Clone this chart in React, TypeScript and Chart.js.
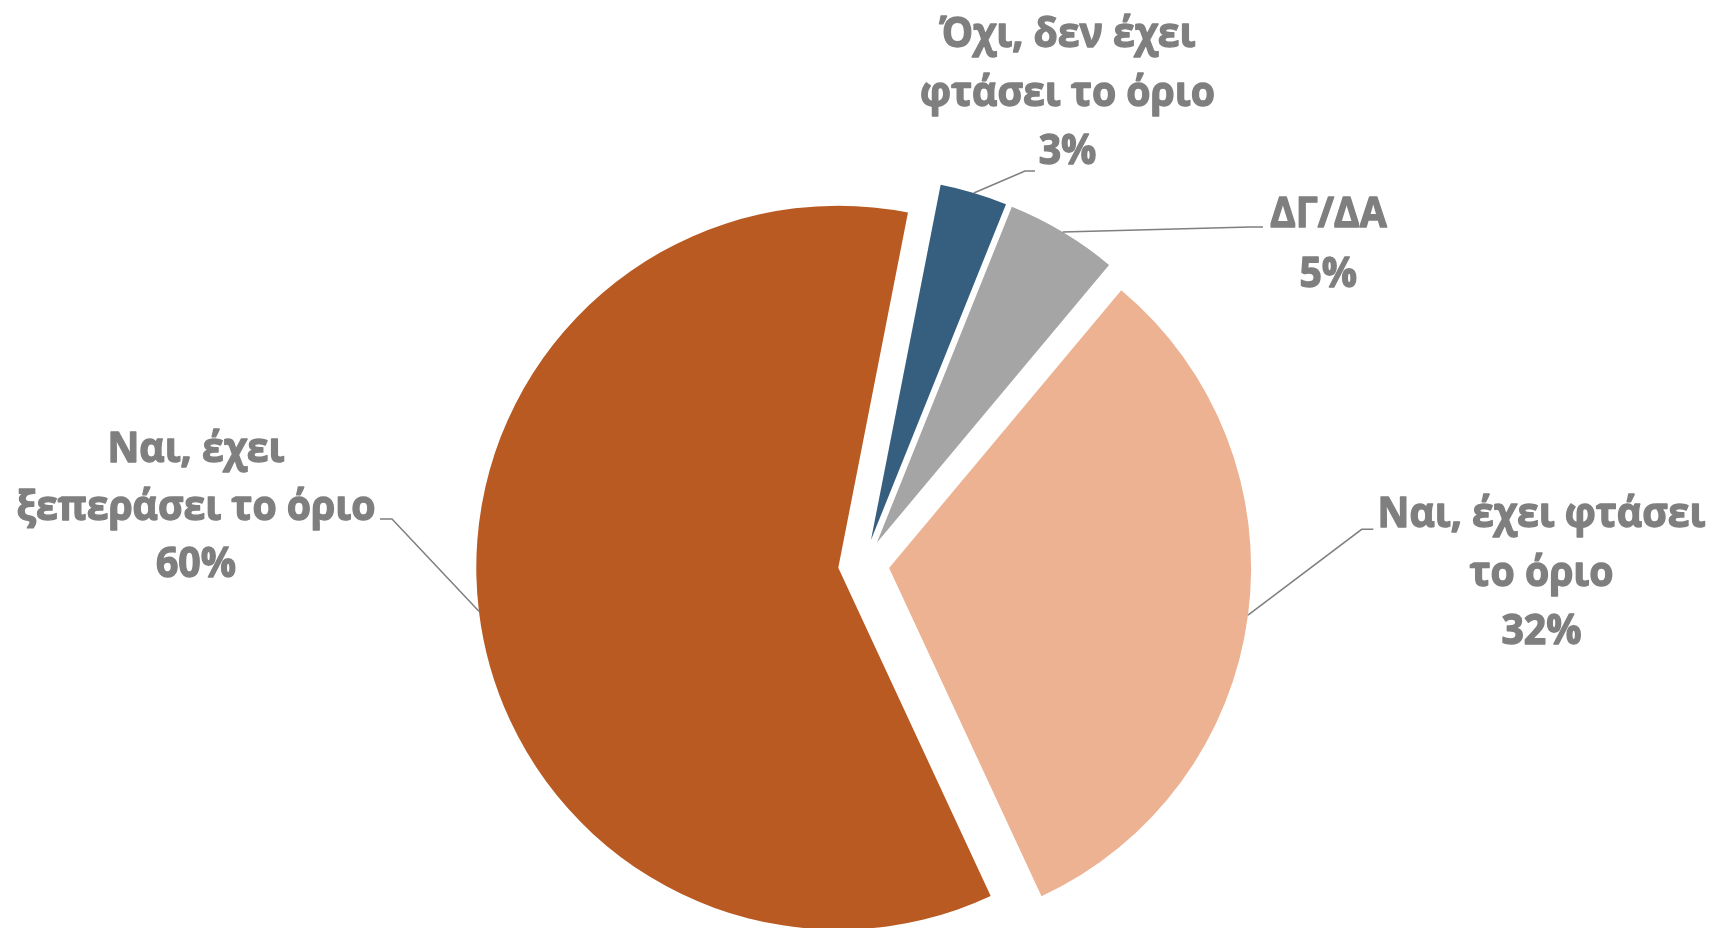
import React, { useEffect, useRef } from 'react';
import { Chart, registerables } from 'chart.js';

Chart.register(...registerables);

// ---- data ----
const categories = [
  'Όχι, δεν έχει φτάσει το όριο',
  'ΔΓ/ΔΑ',
  'Ναι, έχει φτάσει το όριο',
  'Ναι, έχει ξεπεράσει το όριο',
];
const labelLines = [
  ['Όχι, δεν έχει', 'φτάσει το όριο'],
  ['ΔΓ/ΔΑ'],
  ['Ναι, έχει φτάσει', 'το όριο'],
  ['Ναι, έχει', 'ξεπεράσει το όριο'],
];
const values = [3, 5, 32, 60];

// ---- styles / layout ----
const colors = ['#365E7E', '#A5A5A5', '#ECB292', '#B95A23'];
const W = 1713;
const H = 928;
const CENTER_X = 863.7;
const CENTER_Y = 564.6;
const RADIUS = 362;
const ROTATION = 11.1;
const EXPLODE = [25.6, 25.6, 25.6, 25.6];
const TEXT_COLOR = '#7F7F7F';
const LEADER_COLOR = '#7F7F7F';
const FONT_SIZE = 42;
const FONT_FAMILY = '"Open Sans", "Noto Sans", sans-serif';
const TEXT_STROKE = 1.4;
const REF_TEXT = 'ξεπεράσει το όριο';
const REF_WIDTH = 359;
const LINE_H = 58.5;
const labelLayout = [
  { x: 1067.5, y: 47, lh: LINE_H, elbow: [1025, 171], end: [1035, 171] },
  { x: 1328.3, y: 226.7, lh: 60, elbow: [1250, 227], end: [1263, 227] },
  { x: 1541.5, y: 527, lh: LINE_H, elbow: [1361.7, 529.3], end: [1373.3, 529.3] },
  { x: 196, y: 462, lh: 57.5, elbow: [392, 519], end: [380, 519] },
];

const explodePlugin = {
  id: 'explodeSlices',
  afterUpdate(chart: any) {
    const meta = chart.getDatasetMeta(0);
    meta.data.forEach((arc: any, i: number) => {
      const mid = (arc.startAngle + arc.endAngle) / 2;
      arc.x += Math.cos(mid) * EXPLODE[i];
      arc.y += Math.sin(mid) * EXPLODE[i];
    });
  },
};

const labelPlugin = {
  id: 'sliceLabels',
  afterDraw(chart: any) {
    const ctx: CanvasRenderingContext2D = chart.ctx;
    const meta = chart.getDatasetMeta(0);
    const total = values.reduce((a, b) => a + b, 0);
    ctx.save();
    ctx.font = `bold ${FONT_SIZE}px ${FONT_FAMILY}`;
    const sx = REF_WIDTH / ctx.measureText(REF_TEXT).width;
    ctx.textAlign = 'center';
    ctx.textBaseline = 'alphabetic';
    ctx.fillStyle = TEXT_COLOR;
    meta.data.forEach((arc: any, i: number) => {
      const L = labelLayout[i];
      const mid = (arc.startAngle + arc.endAngle) / 2;
      const ex = arc.x + Math.cos(mid) * arc.outerRadius;
      const ey = arc.y + Math.sin(mid) * arc.outerRadius;
      ctx.strokeStyle = LEADER_COLOR;
      ctx.lineWidth = 1.5;
      ctx.beginPath();
      ctx.moveTo(ex, ey);
      ctx.lineTo(L.elbow[0], L.elbow[1]);
      ctx.lineTo(L.end[0], L.end[1]);
      ctx.stroke();
      const lines = [...labelLines[i], `${Math.round((values[i] / total) * 100)}%`];
      lines.forEach((t, j) => {
        ctx.save();
        ctx.translate(L.x, L.y + j * L.lh);
        ctx.scale(sx, 1);
        ctx.lineWidth = TEXT_STROKE;
        ctx.lineJoin = 'round';
        ctx.strokeStyle = TEXT_COLOR;
        ctx.strokeText(t, 0, 0);
        ctx.fillText(t, 0, 0);
        ctx.restore();
      });
    });
    ctx.restore();
  },
};

export default function App() {
  const ref = useRef<HTMLCanvasElement | null>(null);
  useEffect(() => {
    if (!ref.current) return;
    const chart = new Chart(ref.current, {
      type: 'pie',
      data: {
        labels: categories,
        datasets: [
          {
            data: values,
            backgroundColor: colors,
            borderWidth: 0,
            radius: RADIUS,
            rotation: ROTATION,
            clip: false,
          } as any,
        ],
      },
      options: {
        animation: false,
        responsive: false,
        devicePixelRatio: 1,
        events: [],
        layout: {
          padding: {
            left: 2 * CENTER_X - W,
            top: 2 * CENTER_Y - H,
            right: 0,
            bottom: 0,
          },
        },
        plugins: {
          legend: { display: false },
          tooltip: { enabled: false },
        },
      },
      plugins: [explodePlugin, labelPlugin],
    });
    return () => chart.destroy();
  }, []);
  return (
    <div
      style={{
        position: 'fixed',
        left: 0,
        top: 0,
        width: W,
        height: H,
        background: '#fff',
        overflow: 'hidden',
      }}
    >
      <canvas ref={ref} width={W} height={H} style={{ display: 'block' }} />
    </div>
  );
}
